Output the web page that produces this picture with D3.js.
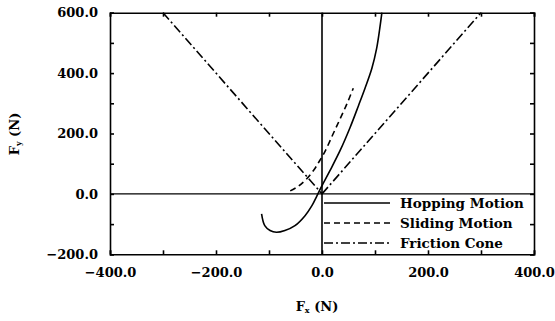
<!DOCTYPE html>
<html>
  <head>
    <meta charset="utf-8">
    <title>Contact forces</title>
    <script src="https://cdn.jsdelivr.net/npm/d3@7"></script>
    <style>
      body { margin: 0; background: #fff; }
      text { font-family: "DejaVu Serif", serif; font-weight: bold; fill: #000; }
      .axis path, .axis line { stroke: #000; stroke-width: 1.6; }
    </style>
  </head>
  <body>
    <script>

// chart size
var w = 555;
var h = 321;

// data (Fx, Fy in N)
var hopFx = [-114, -108, -98, -86, -70, -51, -32, -19, -10, -1, 15, 34, 53, 69, 81, 94, 103, 109, 113];
var hopFy = [-66, -105, -121, -127, -121, -105, -72, -39, -8, 24, 77, 143, 220, 293, 349, 415, 481, 548, 600];

var slideFx = [-60, -45, -30, -15, -5, 5, 20, 34, 47, 59];
var slideFy = [10, 25, 48, 80, 108, 138, 195, 248, 298, 350];

var coneLeftFx = [-300, 0];
var coneRightFx = [0, 300];
var coneFy = [600, 0];
var coneFy2 = [0, 600];

var xTicks = [-400, -200, 0, 200, 400];
var yTicks = [-200, 0, 200, 400, 600];
var minorStep = 100;

var legendNames = ["Hopping Motion", "Sliding Motion", "Friction Cone"];

// scales
var x = d3.scaleLinear().domain([-400, 400]).range([110, 534]);
var y = d3.scaleLinear().domain([-200, 600]).range([254.3, 12.7]);

var svg = d3.select("body").append("svg")
  .attr("width", w)
  .attr("height", h);

var fmt = function(d) { return d3.format(".1f")(d).replace("-", "\u2212"); };
var minorX = d3.range(-400, 401, minorStep);
var minorY = d3.range(-200, 601, minorStep);

// inside ticks on all four sides
svg.append("g").attr("class", "axis")
  .attr("transform", "translate(0," + y(-200) + ")")
  .call(d3.axisBottom(x).tickValues(minorX).tickSize(-4).tickFormat(""));
svg.append("g").attr("class", "axis")
  .attr("transform", "translate(0," + y(600) + ")")
  .call(d3.axisTop(x).tickValues(minorX).tickSize(-4).tickFormat(""));
svg.append("g").attr("class", "axis")
  .attr("transform", "translate(" + x(-400) + ",0)")
  .call(d3.axisLeft(y).tickValues(minorY).tickSize(-4).tickFormat(""));
svg.append("g").attr("class", "axis")
  .attr("transform", "translate(" + x(400) + ",0)")
  .call(d3.axisRight(y).tickValues(minorY).tickSize(-4).tickFormat(""));

// tick labels
var xLab = svg.append("g")
  .attr("transform", "translate(0," + y(-200) + ")")
  .call(d3.axisBottom(x).tickValues(xTicks).tickSize(0).tickPadding(13).tickFormat(fmt));
xLab.select(".domain").remove();
xLab.selectAll("text").style("font-size", "13px");

var yLab = svg.append("g")
  .attr("transform", "translate(" + x(-400) + ",0)")
  .call(d3.axisLeft(y).tickValues(yTicks).tickSize(0).tickPadding(12).tickFormat(fmt));
yLab.select(".domain").remove();
yLab.selectAll("text").style("font-size", "13px");

// zero lines
svg.append("line")
  .attr("x1", x(-400)).attr("x2", x(400))
  .attr("y1", y(0)).attr("y2", y(0))
  .attr("stroke", "#000").attr("stroke-width", 1.4);
svg.append("line")
  .attr("x1", x(0)).attr("x2", x(0))
  .attr("y1", y(-200)).attr("y2", y(600))
  .attr("stroke", "#000").attr("stroke-width", 1.6);

// curves
var line = d3.line()
  .x(function(d) { return x(d[0]); })
  .y(function(d) { return y(d[1]); })
  .curve(d3.curveCatmullRom);

var series = [
  { pts: d3.zip(hopFx, hopFy), dash: null },
  { pts: d3.zip(slideFx, slideFy), dash: "6,4" },
  { pts: d3.zip(coneLeftFx, coneFy), dash: "9,3,2,3" },
  { pts: d3.zip(coneRightFx, coneFy2), dash: "9,3,2,3" }
];

svg.selectAll("path.curve")
  .data(series)
  .enter()
  .append("path")
  .attr("class", "curve")
  .attr("d", function(d) { return line(d.pts); })
  .attr("fill", "none")
  .attr("stroke", "#000")
  .attr("stroke-width", 1.6)
  .attr("stroke-dasharray", function(d) { return d.dash; });

// legend
var dashes = [null, "6,4", "9,3,2,3"];
var leg = svg.selectAll("g.leg")
  .data(legendNames)
  .enter()
  .append("g")
  .attr("class", "leg")
  .attr("transform", function(d, i) { return "translate(0," + (203 + i * 20) + ")"; });
leg.append("line")
  .attr("x1", x(0) + 2).attr("x2", 390)
  .attr("stroke", "#000").attr("stroke-width", 1.4)
  .attr("stroke-dasharray", function(d, i) { return dashes[i]; });
leg.append("text")
  .attr("x", 400)
  .attr("dy", "0.35em")
  .style("font-size", "13.5px")
  .text(function(d) { return d; });

// axis titles
var xt = svg.append("text")
  .attr("x", 317).attr("y", 311)
  .attr("text-anchor", "middle")
  .style("font-size", "13px");
xt.append("tspan").text("F");
xt.append("tspan").attr("dy", 2).style("font-size", "8px").text("x");
xt.append("tspan").attr("dy", -2).text(" (N)");

var yt = svg.append("text")
  .attr("transform", "translate(19,134) rotate(-90)")
  .attr("text-anchor", "middle")
  .style("font-size", "13px");
yt.append("tspan").text("F");
yt.append("tspan").attr("dy", 2).style("font-size", "8px").text("y");
yt.append("tspan").attr("dy", -2).text(" (N)");

    </script>
  </body>
</html>
